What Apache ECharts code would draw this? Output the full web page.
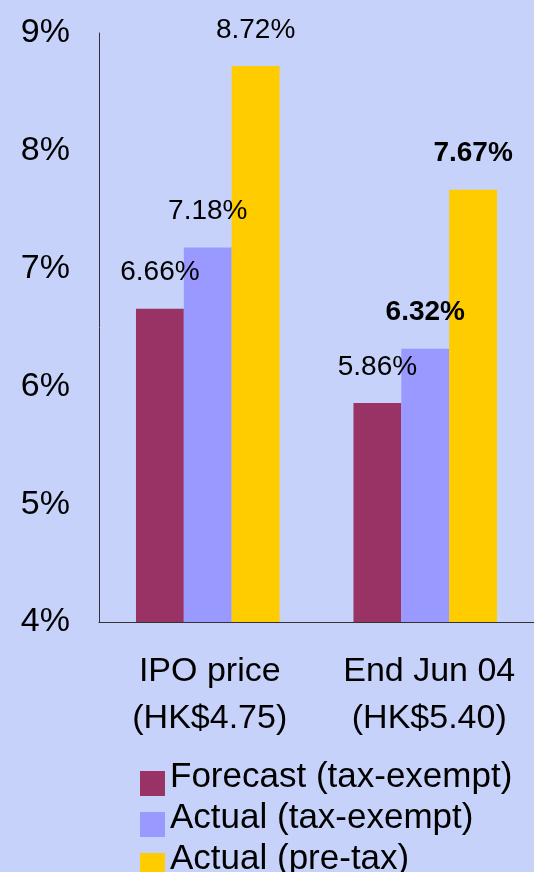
<!DOCTYPE html>
<html>
<head>
<meta charset="utf-8">
<script src="https://cdn.jsdelivr.net/npm/echarts@6/dist/echarts.min.js"></script>
<style>
  html, body { margin: 0; padding: 0; background: #c6d2f9; }
  #chart { width: 534px; height: 872px; }
</style>
</head>
<body>
<div id="chart"></div>
<script>
const categories = ['IPO price\n(HK$4.75)', 'End Jun 04\n(HK$5.40)']
const seriesNames = ['Forecast (tax-exempt)', 'Actual (tax-exempt)', 'Actual (pre-tax)']
const forecastTaxExempt = [6.66, 5.86]
const actualTaxExempt = [7.18, 6.32]
const actualPreTax = [8.72, 7.67]

const colors = ['#993366', '#9999ff', '#ffcc00']
const font = 'Liberation Sans, Arial, sans-serif'

// second group's actual labels are bold in the original
function items(values, boldSecond) {
  return values.map(function (v, i) {
    const item = { value: v }
    if (boldSecond && i === 1) item.label = { fontWeight: 'bold' }
    return item
  })
}

// category labels sit a little right of the bar groups
const labelNudge = [4, 8]
const categoryData = categories.map(function (c, i) {
  return { value: c, textStyle: { padding: [0, 0, 0, labelNudge[i]] } }
})

const chart = echarts.init(document.getElementById('chart'))

function bar(name, values, color, boldSecond) {
  return {
    type: 'bar',
    name: name,
    data: items(values, boldSecond),
    barGap: '0%',
    barCategoryGap: '34%',
    itemStyle: { color: color },
    label: {
      show: true,
      position: 'top',
      distance: 22,
      color: '#000',
      fontSize: 28,
      fontFamily: font,
      formatter: function (p) { return p.value.toFixed(2) + '%' },
    },
  }
}

chart.setOption({
  backgroundColor: '#c6d2f9',
  textStyle: { fontFamily: font },
  animation: false,
  grid: { left: 99, top: 33, width: 448, bottom: 250, containLabel: false },
  legend: {
    orient: 'vertical',
    left: 140,
    top: 760,
    height: 200,
    padding: 0,
    itemWidth: 25,
    itemHeight: 25,
    itemGap: 5,
    icon: 'rect',
    formatter: '{t|{name}}',
    textStyle: {
      rich: {
        t: {
          fontSize: 35,
          fontFamily: font,
          color: '#000',
          padding: [0, 0, 12, 0],
        },
      },
    },
    data: seriesNames,
  },
  xAxis: {
    type: 'category',
    data: categoryData,
    axisLine: { show: true, lineStyle: { color: '#333', width: 1 } },
    axisTick: { show: false },
    axisLabel: {
      interval: 0,
      hideOverlap: false,
      color: '#000',
      fontSize: 34,
      lineHeight: 47,
      margin: 26,
    },
  },
  yAxis: {
    type: 'value',
    min: 4,
    max: 9,
    interval: 1,
    axisLine: { show: true, lineStyle: { color: '#333', width: 1 } },
    axisTick: { show: false },
    splitLine: { show: false },
    axisLabel: {
      color: '#000',
      fontSize: 34,
      margin: 29,
      padding: [0, 0, 4, 0],
      formatter: '{value}%',
    },
  },
  series: [
    bar(seriesNames[0], forecastTaxExempt, colors[0], false),
    bar(seriesNames[1], actualTaxExempt, colors[1], true),
    bar(seriesNames[2], actualPreTax, colors[2], true),
  ],
})
</script>
</body>
</html>
